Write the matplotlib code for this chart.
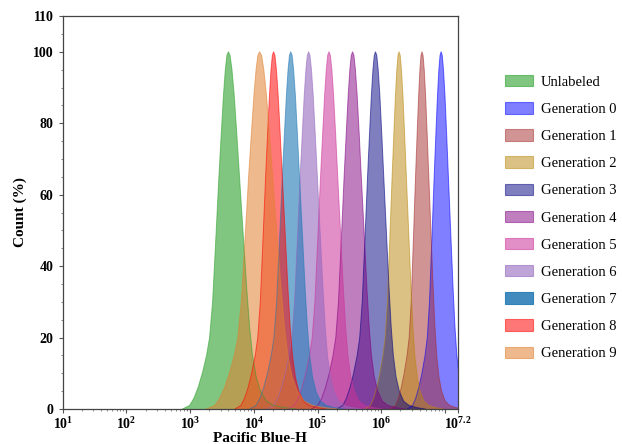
import numpy as np
import matplotlib
matplotlib.use('Agg')
import matplotlib.pyplot as plt
from matplotlib.patches import Patch
from matplotlib.ticker import FixedLocator, MultipleLocator, LogLocator, NullFormatter

plt.rcParams['font.family'] = ['Liberation Serif', 'DejaVu Serif']
plt.rcParams['mathtext.fontset'] = 'custom'
plt.rcParams['mathtext.rm'] = 'Liberation Serif:bold'
plt.rcParams['mathtext.bf'] = 'Liberation Serif:bold'
plt.rcParams['mathtext.it'] = 'Liberation Serif:bold'

# 1. 数据：每个群体的峰位置 (log10) 和半高半宽 (左/右, decades)
labels = ['Unlabeled', 'Generation 0', 'Generation 1', 'Generation 2', 'Generation 3',
          'Generation 4', 'Generation 5', 'Generation 6', 'Generation 7', 'Generation 8',
          'Generation 9']
peak_log = [3.60, 6.94, 6.64, 6.28, 5.91, 5.55, 5.18, 4.86, 4.58, 4.31, 4.09]
hw_left = [0.19, 0.14, 0.13, 0.14, 0.16, 0.17, 0.17, 0.17, 0.17, 0.16, 0.22]
hw_right = [0.23, 0.15, 0.14, 0.15, 0.17, 0.18, 0.18, 0.18, 0.18, 0.18, 0.27]
colors = ['#2ca02c', '#0000ff', '#a52a2a', '#b8860b', '#000080', '#800080',
          '#cc3399', '#9467bd', '#1f77b4', '#ff0000', '#e08030']
alphas = [0.6, 0.5, 0.5, 0.5, 0.5, 0.5, 0.55, 0.6, 0.6, 0.53, 0.55]
legend_alphas = [0.6, 0.5, 0.5, 0.5, 0.5, 0.5, 0.55, 0.6, 0.85, 0.53, 0.55]

# 峰形（从未标记组读出，单位为半高半宽），左侧和右侧
left_u = [-3.8, -3.2, -2.85, -2.5, -2.15, -1.8, -1.55, -1.3, -1.0, -0.78, -0.57, -0.4, -0.25, -0.12, 0.0]
left_h = [0, 1, 3, 6, 10, 15, 20, 30, 50, 65, 78, 88, 95, 99, 100]
right_u = [0.12, 0.25, 0.4, 0.58, 0.78, 1.0, 1.25, 1.45, 1.65, 1.9, 2.2, 2.6, 3.1, 3.8, 4.6]
right_h = [99, 95, 88, 77, 64, 50, 34, 23, 15, 9, 5, 2.2, 1.0, 0.4, 0]

# 2. 画图
fig = plt.figure(figsize=(6.22, 4.44), dpi=100)
ax = fig.add_axes([0.1008, 0.0788, 0.635, 0.885])

for i, lab in enumerate(labels):
    lx = peak_log[i] + np.array(left_u) * hw_left[i]
    rx = peak_log[i] + np.array(right_u) * hw_right[i]
    xs = 10 ** np.concatenate([lx, rx])
    ys = np.concatenate([left_h, right_h])
    ax.fill_between(xs, ys, 0, facecolor=colors[i], alpha=alphas[i],
                    edgecolor='none', label=lab)
    ax.plot(xs, ys, color=colors[i], lw=0.7, alpha=0.55)

ax.set_xscale('log')
ax.set_xlim(10 ** 1, 10 ** 7.2)
ax.set_ylim(0, 110)

major_x = [10 ** k for k in range(1, 8)] + [10 ** 7.2]
ax.xaxis.set_major_locator(FixedLocator(major_x))
ax.set_xticklabels([r'$10^{%d}$' % k for k in range(1, 7)] + ['', r'$10^{7.2}$'])
ax.xaxis.set_minor_locator(LogLocator(base=10, subs=np.arange(2, 10), numticks=20))
ax.xaxis.set_minor_formatter(NullFormatter())

ax.yaxis.set_major_locator(FixedLocator([0, 20, 40, 60, 80, 100, 110]))
ax.yaxis.set_minor_locator(MultipleLocator(5))

for lab in ax.get_yticklabels():
    lab.set_fontweight('bold')
ax.tick_params(axis='both', which='major', labelsize=10, length=3, width=0.8, color='#555555')
ax.tick_params(axis='both', which='minor', length=1.5, width=0.6, color='#777777')
ax.tick_params(axis='x', pad=2)
for s in ax.spines.values():
    s.set_color('#444444')
    s.set_linewidth(0.9)

ax.set_xlabel('Pacific Blue-H', fontsize=11, fontweight='bold', labelpad=0)
ax.set_ylabel('Count (%)', fontsize=11, fontweight='bold', labelpad=4)

handles = [Patch(facecolor=colors[i], alpha=legend_alphas[i], edgecolor=colors[i], lw=0.8)
           for i in range(len(labels))]
fig.legend(handles, labels, loc='upper left', bbox_to_anchor=(0.812, 0.831),
           frameon=False, fontsize=10.5, handlelength=1.92, handleheight=0.82,
           labelspacing=0.92, handletextpad=0.55, borderaxespad=0, borderpad=0)

plt.savefig('out.png', dpi=100)
